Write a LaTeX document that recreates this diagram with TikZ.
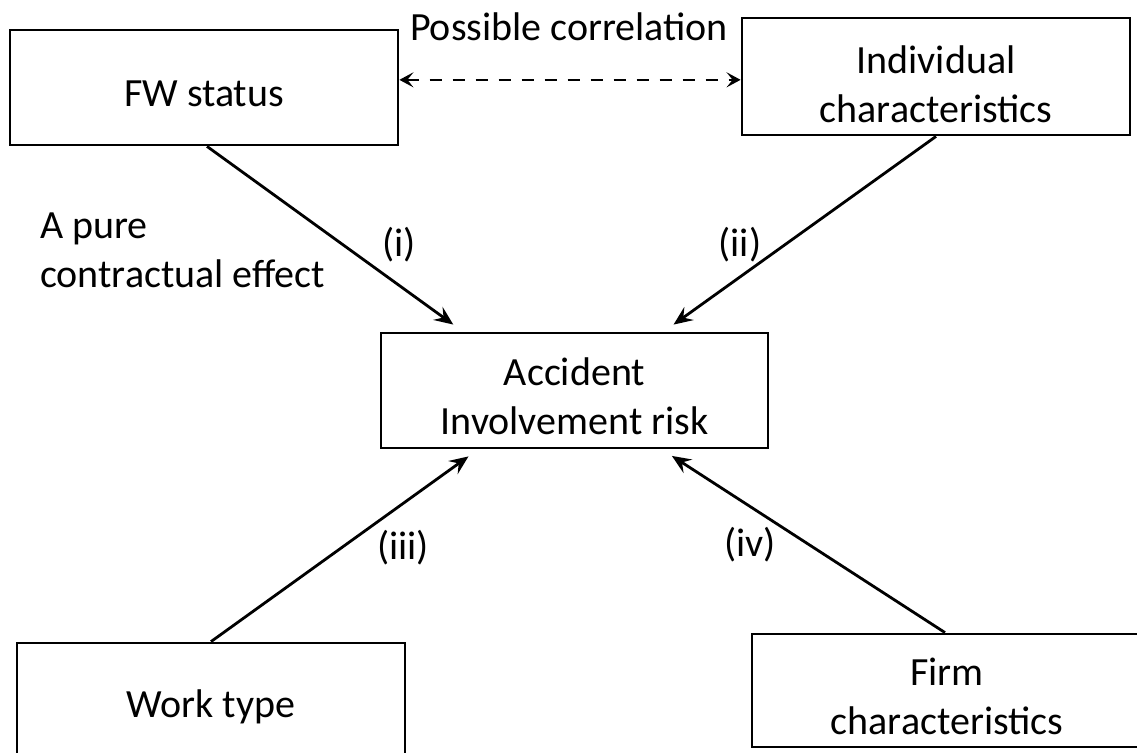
\documentclass[tikz,border=0pt]{standalone}
\usepackage{fontspec}
\setmainfont{Carlito}
\usetikzlibrary{arrows.meta,calc}
\newcommand{\lowertext}[2]{\raisebox{-#1}[\height][\depth]{#2}}
\begin{document}
\begin{tikzpicture}[x=1pt,y=-1pt,
  box/.style={draw, line width=2.8pt, minimum width=388pt, minimum height=115pt, align=center, inner sep=0pt, font=\fontsize{40}{49}\selectfont},
  lbl/.style={font=\fontsize{40}{49}\selectfont, inner sep=0pt},
  link/.style={line width=2.8pt, -{Stealth[length=19pt,width=16pt,inset=7pt]}, shorten >=12pt},
  corr/.style={line width=2.6pt, dash pattern=on 12pt off 11pt, {Stealth[length=14pt,width=15pt,inset=6pt]}-{Stealth[length=14pt,width=15pt,inset=6pt]}}
]
\useasboundingbox (0,0) rectangle (1137,752);
\clip (0,0) rectangle (1137,752);
\node[box] (fw) at (204,87.5) {\lowertext{6pt}{FW status}};
\node[box, minimum height=117pt] (ind) at (936,76.5) {\lowertext{12pt}{\begin{tabular}{@{}c@{}}Individual\\characteristics\end{tabular}}};
\node[box, minimum width=387pt] (acc) at (574.5,390.5) {\lowertext{10pt}{\begin{tabular}{@{}c@{}}Accident\\Involvement risk\end{tabular}}};
\node[box, minimum height=128pt] (work) at (211,707) {Work type};
\node[box, minimum width=390pt, minimum height=113pt] (firm) at (947,690.5) {\lowertext{10pt}{\begin{tabular}{@{}c@{}}Firm\\characteristics\end{tabular}}};

\draw[link] ([xshift=3pt]fw.south) -- ($(acc.north west)!0.214!(acc.north east)$);
\draw[link] (ind.south) -- ($(acc.north west)!0.729!(acc.north east)$);
\draw[link] (work.north) -- ($(acc.south west)!0.253!(acc.south east)$);
\draw[link] ([xshift=-2pt]firm.north) -- ($(acc.south west)!0.724!(acc.south east)$);

\coordinate (cl) at ($(fw.north east)!0.435!(fw.south east)$);
\draw[corr] (cl) -- (cl -| ind.west);

\node[lbl] (pc) at (569,27) {Possible correlation};
\node[lbl, anchor=base west, align=left] (pure) at (40,287) {A pure\\contractual effect};
\node[lbl] (l1) at (399,245) {(i)};
\node[lbl] (l2) at (740,245) {(ii)};
\node[lbl] (l3) at (403,548) {(iii)};
\node[lbl] (l4) at (750,545) {(iv)};
\end{tikzpicture}
\end{document}
